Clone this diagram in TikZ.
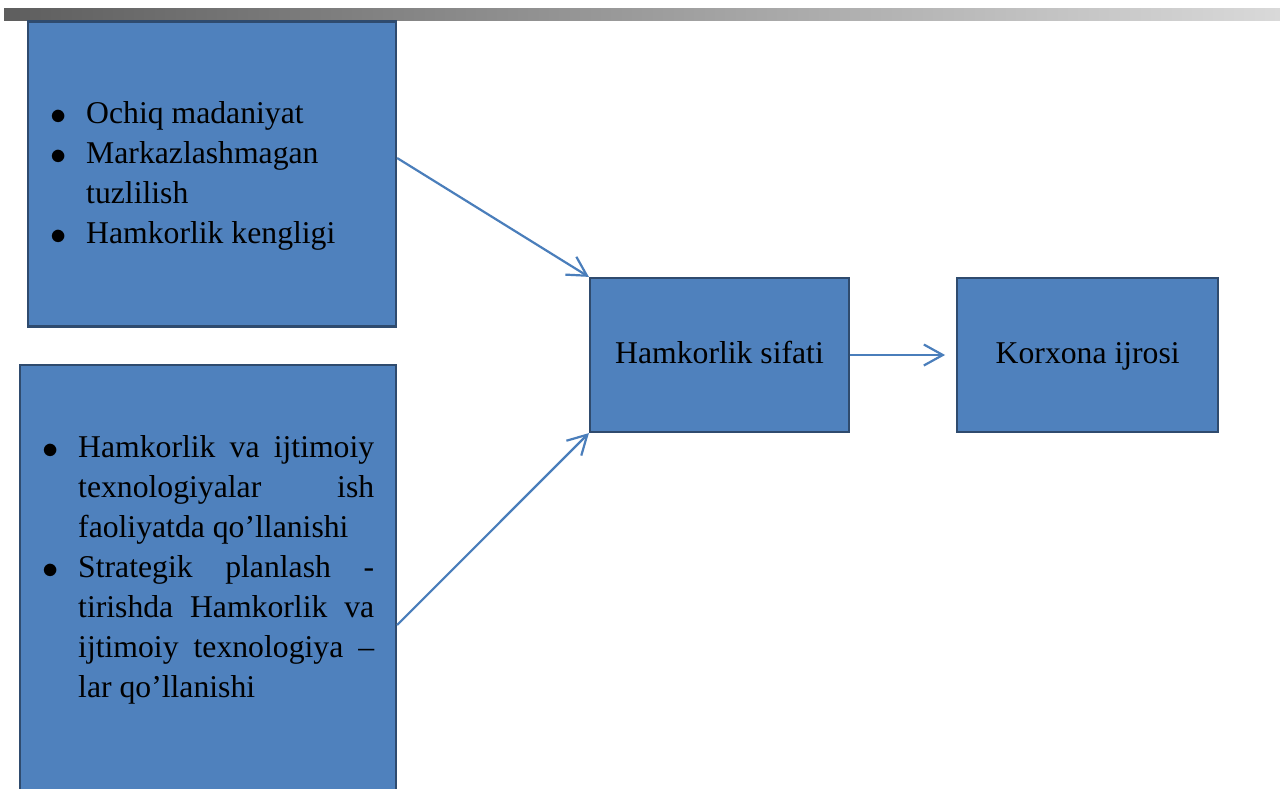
\documentclass[tikz,border=0pt]{standalone}
\usepackage{fontspec}
\setmainfont{Liberation Serif}
\usetikzlibrary{arrows.meta, positioning}
\definecolor{boxblue}{HTML}{4F81BD}
\definecolor{boxedge}{HTML}{2F4B6E}
\definecolor{arrowblue}{HTML}{4A7EBB}
\definecolor{bardark}{HTML}{5E5E5E}
\definecolor{barlight}{HTML}{D9D9D9}
\newcommand{\bodyfont}{\fontsize{31.7}{40}\selectfont}
\newcommand{\plainspace}{\spaceskip=0pt\xspaceskip=0pt}
\newcommand{\bitem}{\strut\llap{\raisebox{-1.3pt}{\scalebox{1.3}{$\bullet$}}\hspace{19.7pt}}}
\newcommand{\jline}[1]{\makebox[296pt][s]{\plainspace #1}}
\tikzset{
  factorbox/.style={rectangle, draw=boxedge, fill=boxblue, line width=2.2pt,
                    inner sep=0pt, font=\bodyfont},
  listtext/.style={inner sep=0pt, text width=296pt, align=left,
                   anchor=north west, font=\bodyfont},
  link/.style={-{Straight Barb[length=19pt,width=21pt]}, line width=2.2pt,
               draw=arrowblue},
}
\begin{document}
\begin{tikzpicture}[x=1pt, y=1pt]
  \clip (0,0) rectangle (1280,-789);
  \fill[white] (0,0) rectangle (1280,-789);

  % --- title bar ---
  \shade[left color=bardark, right color=barlight] (4,-9) rectangle (1280,-21);

  % --- left column: factor boxes ---
  \node[factorbox, minimum width=368pt, minimum height=305pt] (culture) at (212,-174) {};
  \node[listtext] (culturelist) at (86,-95)
       {\plainspace
        \bitem Ochiq madaniyat\\
        \bitem Markazlashmagan\\
        tuzlilish\\
        \bitem Hamkorlik kengligi};

  \node[factorbox, minimum width=376pt, minimum height=435pt] (tech) at (208,-582.5) {};
  \node[listtext] (techlist) at (78,-429)
       {\plainspace
        \bitem\jline{Hamkorlik va ijtimoiy}\\
        \jline{texnologiyalar ish}\\
        faoliyatda qo’llanishi\\
        \bitem\jline{Strategik planlash -}\\
        \jline{tirishda Hamkorlik va}\\
        \jline{ijtimoiy texnologiya –}\\
        lar qo’llanishi};

  % --- middle and right: outcome boxes ---
  \node[factorbox, minimum width=259pt, minimum height=154pt] (quality) at (719.5,-355)
       {\strut Hamkorlik sifati};
  \node[factorbox, minimum width=261pt, minimum height=154pt, right=106pt of quality] (perf)
       {\strut Korxona ijrosi};

  % Links
  \draw[link] ([yshift=16pt]culture.east) -- (quality.north west);
  \draw[link] ([yshift=-42.5pt]tech.east) -- (quality.south west);
  \draw[link, shorten >=11pt] (quality.east) -- (perf.west);

\end{tikzpicture}
\end{document}
